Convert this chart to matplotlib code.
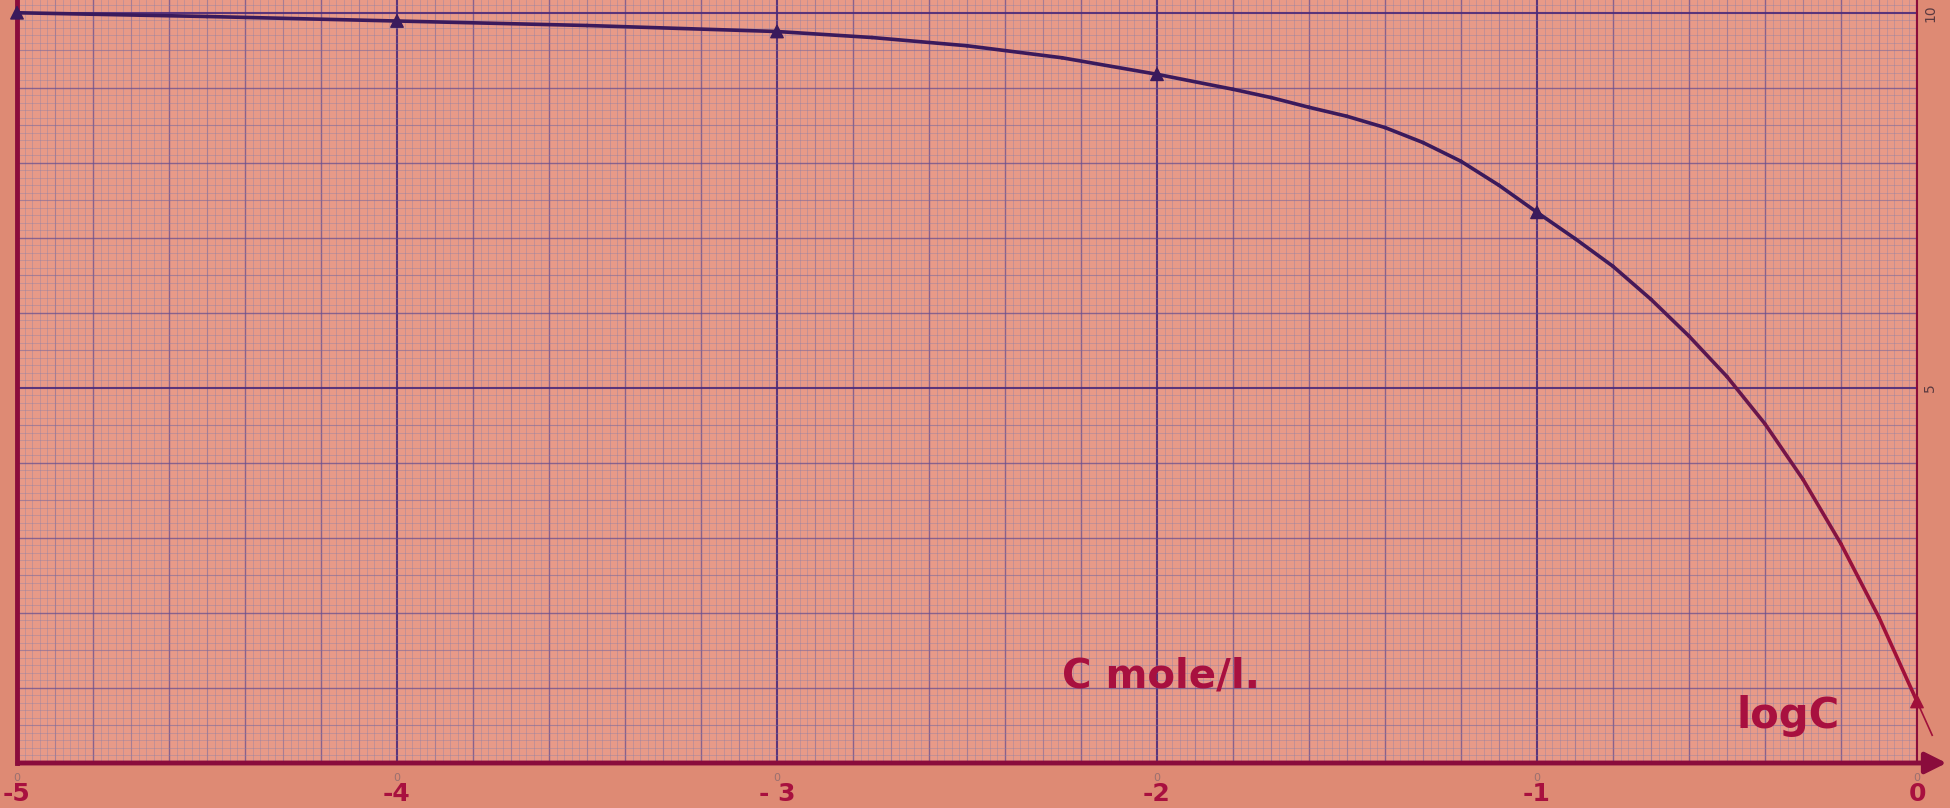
"""
Plot value vs log C on graph paper
"""

import numpy as np
import matplotlib.pyplot as plt
from matplotlib.collections import LineCollection
from matplotlib.colors import to_rgb

# measured points (triangles)
log_c = [-5, -4, -3, -2, -1, 0]
value = [10.0, 9.89, 9.75, 9.18, 7.34, 0.82]

# hand drawn curve
curve_x = [-5, -4.5, -4, -3.5, -3, -2.75, -2.5, -2.25, -2, -1.8, -1.7, -1.6,
           -1.5, -1.4, -1.3, -1.2, -1.1, -1.0, -0.9, -0.8, -0.7, -0.6, -0.5,
           -0.4, -0.3, -0.2, -0.1, 0]
curve_y = [10, 9.95, 9.89, 9.83, 9.75, 9.67, 9.56, 9.40, 9.18, 8.98, 8.87,
           8.74, 8.62, 8.47, 8.27, 8.02, 7.70, 7.34, 6.99, 6.62, 6.18, 5.69,
           5.15, 4.52, 3.78, 2.92, 1.94, 0.82]
# pen stroke running past the last point
tail_x = [0, 0.04]
tail_y = [0.82, 0.37]

xtick_pos = [-5, -4, -3, -2, -1, 0]
xtick_labels = ['-5', '-4', '- 3', '-2', '-1', '0']
side_labels = ['10', '5']
side_pos = [10, 5]

PAPER = '#e89a88'
EDGE = '#de8a74'
INK = '#a8103f'
AXIS = '#8a0c3c'
PEN_TOP = '#3a1a5c'
PEN_BOT = '#a0103a'


def line_style(k, heavy):
    if k % heavy == 0:
        return 1.5, '#4c2a7a', 0.9
    if k % 10 == 0:
        return 1.0, '#6a5090', 0.75
    if k % 5 == 0:
        return 0.8, '#7e6a9c', 0.6
    return 0.55, '#8c80a8', 0.5


def draw_paper(ax, xmax, ymax):
    # mm grid: x 1 mm = 0.02, y 1 mm = 0.1
    for x in np.arange(-5, xmax + 1e-9, 0.02):
        k = int(round((x + 5) / 0.02))
        lw, c, a = line_style(k, 50)
        ax.axvline(x, color=c, lw=lw, alpha=a, zorder=1)
    for y in np.arange(0, ymax, 0.1):
        k = int(round(y / 0.1))
        lw, c, a = line_style(k, 50)
        ax.axhline(y, color=c, lw=lw, alpha=a, zorder=1)


def main():
    fig = plt.figure(figsize=(19.5, 8.08), dpi=100)
    fig.patch.set_facecolor(EDGE)
    ax = fig.add_axes([17 / 1950, 45 / 808, 1900 / 1950, 763 / 808])
    ax.set_facecolor(PAPER)
    ax.set_xlim(-5, 0)
    ax.set_ylim(0, 10.17)

    draw_paper(ax, 0, 10.17)

    # curve, ink shifting from dark violet to red towards the bottom
    pts = np.column_stack([curve_x, curve_y])
    segs = np.stack([pts[:-1], pts[1:]], axis=1)
    c0 = np.array(to_rgb(PEN_TOP))
    c1 = np.array(to_rgb(PEN_BOT))
    cols = []
    for s in segs:
        t = np.clip((7.0 - s[:, 1].mean()) / 5.0, 0, 1)
        cols.append(c0 * (1 - t) + c1 * t)
    lc = LineCollection(segs, colors=cols, linewidths=2.6, zorder=4,
                        capstyle='round', joinstyle='round')
    ax.add_collection(lc)
    ax.plot(tail_x, tail_y, color=PEN_BOT, lw=1.2, zorder=4, clip_on=False)

    mcol = [PEN_TOP, PEN_TOP, PEN_TOP, PEN_TOP, PEN_TOP, PEN_BOT]
    ax.scatter(log_c, value, marker='^', s=80, c=mcol, zorder=5,
               clip_on=False)

    # frame
    ax.spines['top'].set_visible(False)
    ax.spines['left'].set_color(AXIS)
    ax.spines['left'].set_linewidth(3.5)
    ax.spines['right'].set_color(AXIS)
    ax.spines['right'].set_linewidth(1.5)
    ax.spines['bottom'].set_visible(False)
    ax.annotate('', xy=(0.085, 0), xytext=(-5.005, 0),
                arrowprops=dict(arrowstyle='-|>', color=AXIS, lw=3.5,
                                mutation_scale=32),
                annotation_clip=False, zorder=6)

    ax.set_xticks(xtick_pos)
    ax.set_xticklabels(xtick_labels, fontsize=18, fontweight='bold', color=INK)
    ax.tick_params(axis='x', length=0, pad=14)
    ax.set_yticks([])

    # printed numbers of the sheet
    for lab, y in zip(side_labels, side_pos):
        ax.text(0.035, y, lab, rotation=90, fontsize=10, color='#5a3a40',
                ha='center', va='center', clip_on=False)
    for x in xtick_pos:
        ax.text(x, -0.2, '0', fontsize=8, color='#9a7070', ha='center',
                va='center', clip_on=False)

    ax.text(-1.99, 1.0, 'C mole/l.', fontsize=29, color=INK,
            fontweight='bold', ha='center', va='baseline')
    ax.text(-0.34, 0.47, 'logC', fontsize=30, color=INK,
            fontweight='bold', ha='center', va='baseline')

    fig.savefig('out.png', dpi=100, facecolor=fig.get_facecolor())


if __name__ == '__main__':
    main()
